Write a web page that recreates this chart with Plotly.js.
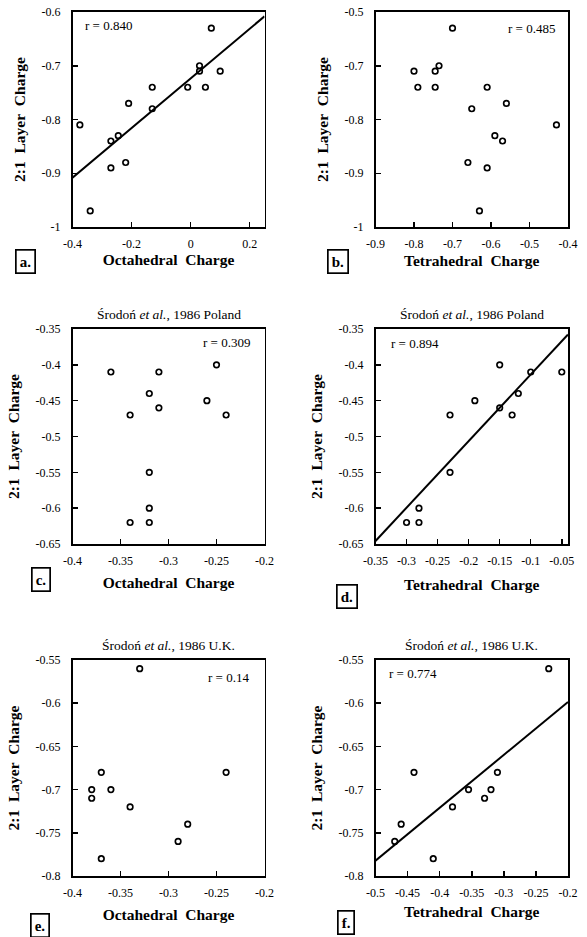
<!DOCTYPE html>
<html><head><meta charset="utf-8">
<script src="https://cdn.plot.ly/plotly-3.0.1.min.js"></script>
<style>html,body{margin:0;padding:0;background:#fff}#chart{width:587px;height:937px}</style>
</head><body><div id="chart"></div>
<script>
// ---- data ----
// Panels a/b : 15 samples
const octA   = [-0.375, -0.34, -0.27, -0.245, -0.27, -0.22, -0.21, -0.13, -0.13, -0.01, 0.03, 0.03, 0.05, 0.07, 0.10];
const layerA = [-0.81, -0.97, -0.84, -0.83, -0.89, -0.88, -0.77, -0.74, -0.78, -0.74, -0.70, -0.71, -0.74, -0.63, -0.71];
const tetB   = [-0.43, -0.63, -0.57, -0.59, -0.61, -0.66, -0.56, -0.61, -0.65, -0.745, -0.735, -0.745, -0.79, -0.70, -0.80];
// Panels c/d : Srodon et al., 1986 Poland
const octC   = [-0.36, -0.31, -0.25, -0.32, -0.31, -0.26, -0.24, -0.34, -0.32, -0.32, -0.34, -0.32];
const layerC = [-0.41, -0.41, -0.40, -0.44, -0.46, -0.45, -0.47, -0.47, -0.55, -0.60, -0.62, -0.62];
const tetD   = [-0.05, -0.10, -0.15, -0.12, -0.15, -0.19, -0.23, -0.13, -0.23, -0.28, -0.28, -0.30];
// Panels e/f : Srodon et al., 1986 U.K.
const octE   = [-0.38, -0.38, -0.37, -0.36, -0.34, -0.37, -0.33, -0.29, -0.28, -0.24];
const layerE = [-0.70, -0.71, -0.68, -0.70, -0.72, -0.78, -0.56, -0.76, -0.74, -0.68];
const tetF   = [-0.32, -0.33, -0.31, -0.355, -0.38, -0.41, -0.23, -0.47, -0.46, -0.44];

const rValues = ["0.840", "0.485", "0.309", "0.894", "0.14", "0.774"];
const panelLabels = ["a.", "b.", "c.", "d.", "e.", "f."];
const subTitles = ["", "", "Środoń <i>et al.</i>, 1986 Poland", "Środoń <i>et al.</i>, 1986 Poland",
                   "Środoń <i>et al.</i>, 1986 U.K.", "Środoń <i>et al.</i>, 1986 U.K."];
const xTitleOct = "Octahedral\u00a0 Charge";
const xTitleTet = "Tetrahedral\u00a0 Charge";
const yTitle = "2:1\u00a0 Layer\u00a0 Charge";

// tick labels
const xTicksA = ["-0.4", "-0.2", "0", "0.2"];
const xTicksB = ["-0.9", "-0.8", "-0.7", "-0.6", "-0.5", "-0.4"];
const yTickValsAB = [-1, -0.9, -0.8, -0.7, -0.6];
const yTicksA = ["-1", "-0.9", "-0.8", "-0.7", "-0.6"];
const yTicksB = ["-1", "-0.9", "-0.8", "-0.7", "-0.5"];
const xTicksC = ["-0.4", "-0.35", "-0.3", "-0.25", "-0.2"];
const xTicksD = ["-0.35", "-0.3", "-0.25", "-0.2", "-0.15", "-0.1", "-0.05"];
const yTicksCD = ["-0.65", "-0.6", "-0.55", "-0.5", "-0.45", "-0.4", "-0.35"];
const xTicksE = ["-0.4", "-0.35", "-0.3", "-0.25", "-0.2"];
const xTicksF = ["-0.5", "-0.45", "-0.4", "-0.35", "-0.3", "-0.25", "-0.2"];
const yTicksEF = ["-0.8", "-0.75", "-0.7", "-0.65", "-0.6", "-0.55"];

// ---- layout geometry ----
const W = 587, H = 937;
const cols = [[72.5, 264.5], [375.5, 568]];
const rows = [[12, 227], [329, 544], [660, 876]];
const SERIF = "Liberation Serif, Times New Roman, serif";

const panels = [
  {x: octA, y: layerA, xr: [-0.4, 0.25], yr: [-1, -0.6], xt: xTicksA, yv: yTickValsAB, yt: yTicksA, xtitle: xTitleOct, fit: true, so: 4,
   r: {x: 83, y: 26, anchor: "left"}, lab: {x: 25, y: 262}},
  {x: tetB, y: layerA, xr: [-0.9, -0.4], yr: [-1, -0.6], xt: xTicksB, yv: yTickValsAB, yt: yTicksB, xtitle: xTitleTet, fit: false, so: 5,
   r: {x: 557, y: 29, anchor: "right"}, lab: {x: 338, y: 262}},
  {x: octC, y: layerC, xr: [-0.4, -0.2], yr: [-0.65, -0.35], xt: xTicksC, yv: yTicksCD.map(Number), yt: yTicksCD, xtitle: xTitleOct, fit: false, so: 10,
   r: {x: 252, y: 342, anchor: "right"}, lab: {x: 41, y: 579}},
  {x: tetD, y: layerC, xr: [-0.35, -0.04], yr: [-0.65, -0.35], xt: xTicksD, yv: yTicksCD.map(Number), yt: yTicksCD, xtitle: xTitleTet, fit: true, so: 12,
   r: {x: 389, y: 343, anchor: "left"}, lab: {x: 347, y: 596}},
  {x: octE, y: layerE, xr: [-0.4, -0.2], yr: [-0.8, -0.55], xt: xTicksE, yv: yTicksEF.map(Number), yt: yTicksEF, xtitle: xTitleOct, fit: false, so: 10,
   r: {x: 251, y: 677, anchor: "right"}, lab: {x: 40, y: 925}},
  {x: tetF, y: layerE, xr: [-0.5, -0.2], yr: [-0.8, -0.55], xt: xTicksF, yv: yTicksEF.map(Number), yt: yTicksEF, xtitle: xTitleTet, fit: true, so: 7,
   r: {x: 387, y: 673, anchor: "left"}, lab: {x: 346, y: 922}}
];

function linfit(xs, ys) {
  const n = xs.length;
  const mx = xs.reduce((a, b) => a + b, 0) / n, my = ys.reduce((a, b) => a + b, 0) / n;
  let sxy = 0, sxx = 0;
  for (let i = 0; i < n; i++) { sxy += (xs[i] - mx) * (ys[i] - my); sxx += (xs[i] - mx) ** 2; }
  const m = sxy / sxx;
  return x => my + m * (x - mx);
}

const traces = [], annotations = [];
const layout = {
  width: W, height: H, margin: {l: 0, r: 0, t: 0, b: 0},
  paper_bgcolor: "#fff", plot_bgcolor: "#fff", showlegend: false,
  font: {family: SERIF, color: "#000"}
};

panels.forEach((p, i) => {
  const k = i + 1, col = cols[i % 2], row = rows[Math.floor(i / 2)];
  const xa = "x" + (k === 1 ? "" : k), ya = "y" + (k === 1 ? "" : k);
  traces.push({type: "scatter", mode: "markers", x: p.x, y: p.y, xaxis: xa, yaxis: ya, cliponaxis: false,
    marker: {symbol: "circle-open", size: 5.5, color: "#000", line: {width: 1.7, color: "#000"}}, hoverinfo: "x+y"});
  if (p.fit) {
    const f = linfit(p.x, p.y);
    traces.push({type: "scatter", mode: "lines", x: p.xr, y: p.xr.map(f), xaxis: xa, yaxis: ya,
      line: {color: "#000", width: 2}, hoverinfo: "skip"});
  }
  const axBase = {showline: true, linewidth: 1.7, linecolor: "#000", mirror: true, ticks: "inside", ticklen: 5,
    tickwidth: 1.5, tickcolor: "#000", showgrid: false, zeroline: false, tickmode: "array", fixedrange: true,
    tickfont: {family: SERIF, size: 12, color: "#000"}};
  layout["xaxis" + (k === 1 ? "" : k)] = Object.assign({}, axBase, {
    domain: [col[0] / W, col[1] / W], range: p.xr, anchor: ya,
    tickvals: p.xt.map(Number), ticktext: p.xt, ticklabelstandoff: 5,
    title: {text: p.xtitle, standoff: p.so, font: {family: SERIF, size: 15.5, weight: "bold", color: "#000"}}
  });
  layout["yaxis" + (k === 1 ? "" : k)] = Object.assign({}, axBase, {
    domain: [1 - row[1] / H, 1 - row[0] / H], range: p.yr, anchor: xa,
    tickvals: p.yv, ticktext: p.yt, ticklabelstandoff: 8,
    title: {text: yTitle, standoff: 12, font: {family: SERIF, size: 15.5, weight: "bold", color: "#000"}}
  });
  annotations.push({xref: "paper", yref: "paper", x: p.r.x / W, y: 1 - p.r.y / H, xanchor: p.r.anchor, yanchor: "middle",
    text: "r = " + rValues[i], showarrow: false, font: {family: SERIF, size: 13, color: "#000"}});
  annotations.push({xref: "paper", yref: "paper", x: p.lab.x / W, y: 1 - p.lab.y / H, xanchor: "center", yanchor: "middle",
    text: panelLabels[i], showarrow: false, bordercolor: "#000", borderwidth: 1.7, borderpad: 3,
    font: {family: SERIF, size: 15, weight: "bold", color: "#000"}});
  if (subTitles[i]) {
    annotations.push({xref: "paper", yref: "paper", x: (col[0] + col[1]) / 2 / W, y: 1 - (row[0] - 15) / H,
      xanchor: "center", yanchor: "middle", text: subTitles[i], showarrow: false,
      font: {family: SERIF, size: 13.5, color: "#000"}});
  }
});
layout.annotations = annotations;

Plotly.newPlot("chart", traces, layout, {displayModeBar: false, staticPlot: true});
</script></body></html>
